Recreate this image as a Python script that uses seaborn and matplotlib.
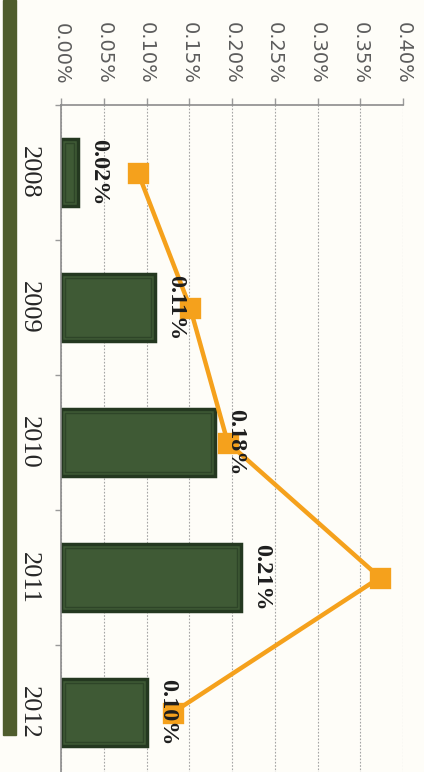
import matplotlib
matplotlib.use("Agg")
import matplotlib.pyplot as plt
import seaborn as sns
import pandas as pd
from matplotlib.patches import Rectangle

# Data (percent)
years = ["2008", "2009", "2010", "2011", "2012"]
bar_values = [0.02, 0.11, 0.18, 0.21, 0.10]
line_values = [0.090, 0.151, 0.195, 0.373, 0.131]
value_ticks = [0.00, 0.05, 0.10, 0.15, 0.20, 0.25, 0.30, 0.35, 0.40]
value_tick_labels = ["0.00%", "0.05%", "0.10%", "0.15%", "0.20%",
                     "0.25%", "0.30%", "0.35%", "0.40%"]

sns.set_theme(style="white")
plt.rcParams["font.family"] = ["DejaVu Sans"]

BG = "#fefdf8"
BAR_FILL = "#3f5a35"
BAR_EDGE = "#243820"
BEVEL = "#2e4528"
ORANGE = "#f5a11c"
AXIS_GRAY = "#8c8c8c"

W, H = 424, 772
fig = plt.figure(figsize=(W / 100, H / 100), dpi=100, facecolor=BG)
ax = fig.add_axes([61 / W, -8 / H, 342 / W, 675 / H])
ax.patch.set_alpha(0)

df = pd.DataFrame({"year": years, "bar": bar_values, "line": line_values})

sns.barplot(data=df, x="bar", y="year", orient="h", width=0.5,
            color=BAR_FILL, edgecolor=BAR_EDGE, linewidth=2.5,
            saturation=1, ax=ax, zorder=2)
sns.pointplot(data=df, x="line", y="year", orient="h", color=ORANGE,
              markers="s", markersize=13, linewidth=3.2, errorbar=None,
              ax=ax, zorder=3)

ax.set_xlim(0, 0.40)
ax.set_ylim(4.5, -0.5)
ax.set_xlabel("")
ax.set_ylabel("")

# inner bevel outline on each bar, inset a few pixels from its edge
inv = ax.transData.inverted()
p0 = inv.transform((0, 0))
p1 = inv.transform((4, 4))
dx, dy = abs(p1[0] - p0[0]), abs(p1[1] - p0[1])
for bar in list(ax.patches):
    x0, y0 = bar.get_x(), bar.get_y()
    w, h = bar.get_width(), bar.get_height()
    if w > 3 * dx:
        ax.add_patch(Rectangle((x0 + dx, y0 + dy), w - 2 * dx, h - 2 * dy,
                               fill=False, edgecolor=BEVEL, linewidth=1.0,
                               zorder=2.5))

# value axis on top, labels turned to read downward
ax.xaxis.tick_top()
ax.set_xticks(value_ticks)
ax.set_xticklabels(value_tick_labels, rotation=270, color="#5c5c5c",
                   fontsize=14)
ax.tick_params(axis="x", which="major", direction="out", length=5,
               width=1, color="#9a9a9a", pad=10, top=True, bottom=False,
               labeltop=True, labelbottom=False)

# category axis on the left
ax.set_yticks(range(len(years)))
ax.set_yticklabels(years, rotation=270, fontfamily="Liberation Serif",
                   fontsize=19, color="#262626")
for lbl in ax.get_yticklabels():
    lbl.set_va("center")
ax.set_yticks([-0.5, 0.5, 1.5, 2.5, 3.5, 4.5], minor=True)
ax.tick_params(axis="y", which="major", length=0, pad=15, left=True)
ax.tick_params(axis="y", which="minor", length=4, width=1,
               color="#9a9a9a", left=True)

ax.grid(axis="x", linestyle=(0, (1.5, 1.5)), color="#a5a5a5", linewidth=0.8)
ax.grid(axis="y", visible=False)
ax.set_axisbelow(True)

for side in ("right", "bottom"):
    ax.spines[side].set_visible(False)
for side in ("left", "top"):
    ax.spines[side].set_color(AXIS_GRAY)
    ax.spines[side].set_linewidth(1.2)

# value labels beside each bar
for i, v in enumerate(bar_values):
    ax.annotate(f"{v:.2f}%", xy=(v, i), xytext=(7.5, 0),
                textcoords="offset points", rotation=270,
                ha="left", va="center", fontfamily="Liberation Serif",
                fontweight="bold", fontsize=17.5, color="#1e1e1e",
                zorder=5)

# olive band along the left edge
fig.add_artist(Rectangle((3 / W, 37 / H), 13 / W, 735 / H,
                         transform=fig.transFigure, color="#4f5d2d",
                         zorder=0))

fig.savefig("out.png", dpi=100, facecolor=fig.get_facecolor())
